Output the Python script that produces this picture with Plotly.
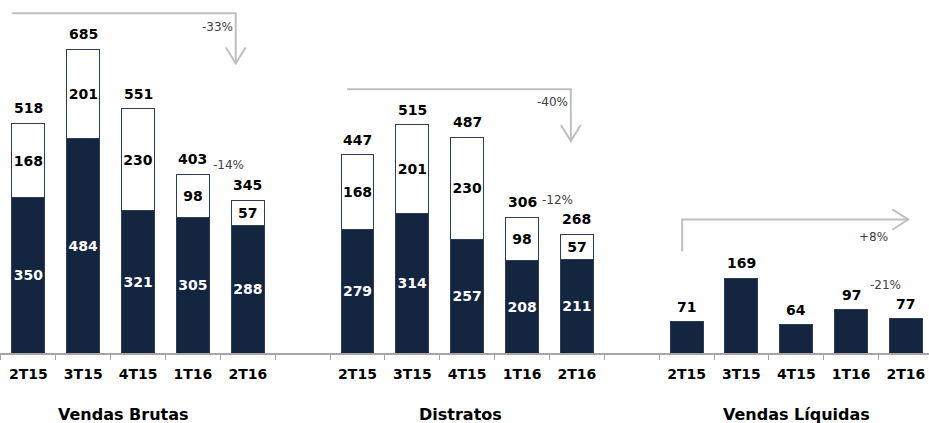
import plotly.graph_objects as go

quarters = ["2T15", "3T15", "4T15", "1T16", "2T16"]
groups = ["Vendas Brutas", "Distratos", "Vendas Líquidas"]

brutas_dark = [350, 484, 321, 305, 288]
brutas_white = [168, 201, 230, 98, 57]
brutas_total = [518, 685, 551, 403, 345]

distratos_dark = [279, 314, 257, 208, 211]
distratos_white = [168, 201, 230, 98, 57]
distratos_total = [447, 515, 487, 306, 268]

liquidas = [71, 169, 64, 97, 77]

pct_labels = ["-33%", "-14%", "-40%", "-12%", "+8%", "-21%"]

NAVY = "#13253F"
EDGE = "#2E3D57"
GRAY = "#BFBFBF"
AXIS = "#A6A6A6"
FONT = "DejaVu Sans"

x_b = [0, 1, 2, 3, 4]
x_d = [6, 7, 8, 9, 10]
x_l = [12, 13, 14, 15, 16]

fig = go.Figure()

def bar(x, y, fill, tcolor):
    fig.add_trace(go.Bar(
        x=x, y=y, width=0.6, marker=dict(color=fill, line=dict(color=EDGE, width=1)),
        text=[str(v) for v in y], textposition="inside", insidetextanchor="middle",
        textangle=0, constraintext="none",
        textfont=dict(family=FONT, size=14, color=tcolor, weight="bold"),
        showlegend=False, hoverinfo="skip"))

bar(x_b, brutas_dark, NAVY, "white")
bar(x_b, brutas_white, "white", "black")
bar(x_d, distratos_dark, NAVY, "white")
bar(x_d, distratos_white, "white", "black")
fig.add_trace(go.Bar(
    x=x_l, y=liquidas, width=0.6, marker=dict(color=NAVY, line=dict(color=EDGE, width=1)),
    showlegend=False, hoverinfo="skip"))

# total labels above each stack
tot_x = x_b + x_d + x_l
tot_y = brutas_total + distratos_total + liquidas
for tx, ty in zip(tot_x, tot_y):
    fig.add_annotation(x=tx, y=ty, xref="x", yref="y", text=str(ty), showarrow=False,
                       yanchor="bottom", yshift=5,
                       font=dict(family=FONT, size=14, color="black", weight="bold"))

# trend arrows (gray elbow arrows with open chevron heads)
line = dict(color=GRAY, width=2)
fig.add_shape(type="path", xref="x", yref="y", line=line,
              path="M -0.30 766 L 3.78 766 L 3.78 653")
fig.add_shape(type="path", xref="x", yref="y", line=line,
              path="M 3.60 689 L 3.78 653 L 3.96 689")
fig.add_shape(type="path", xref="x", yref="y", line=line,
              path="M 5.81 595 L 9.89 595 L 9.89 478")
fig.add_shape(type="path", xref="x", yref="y", line=line,
              path="M 9.71 514 L 9.89 478 L 10.07 514")
fig.add_shape(type="path", xref="x", yref="y", line=line,
              path="M 11.92 229 L 11.92 301 L 16.04 301")
fig.add_shape(type="path", xref="x", yref="y", line=line,
              path="M 15.75 324 L 16.04 301 L 15.75 278")

pct_pos = [(3.44, 735), (3.64, 423), (9.56, 565), (9.65, 346), (15.40, 261), (15.63, 153)]
for t, (px, py) in zip(pct_labels, pct_pos):
    fig.add_annotation(x=px, y=py, xref="x", yref="y", text=t, showarrow=False,
                       font=dict(family=FONT, size=12, color="#404040"))

for g, gx in zip(groups, [1.74, 7.87, 14.0]):
    fig.add_annotation(x=gx, y=-0.174, xref="x", yref="paper", text=g, showarrow=False,
                       yanchor="middle",
                       font=dict(family=FONT, size=16, color="black", weight="bold"))

fig.update_layout(
    width=929, height=423, margin=dict(l=0, r=0, t=0, b=70),
    barmode="stack", bargap=0.4,
    plot_bgcolor="white", paper_bgcolor="white",
    xaxis=dict(range=[-0.518, 16.42], tickmode="array", tickvals=x_b + x_d + x_l,
               ticktext=quarters * 3, ticks="", showgrid=False, zeroline=False,
               showline=True, linecolor=AXIS, linewidth=1.5,
               ticklabelstandoff=7,
               tickfont=dict(family=FONT, size=14, color="black", weight="bold"),
               minor=dict(tick0=-0.5, dtick=1, ticks="outside", ticklen=5,
                          tickcolor=AXIS, tickwidth=1, showgrid=False)),
    yaxis=dict(range=[0, 796], visible=False),
)

fig.write_html("out.html")
